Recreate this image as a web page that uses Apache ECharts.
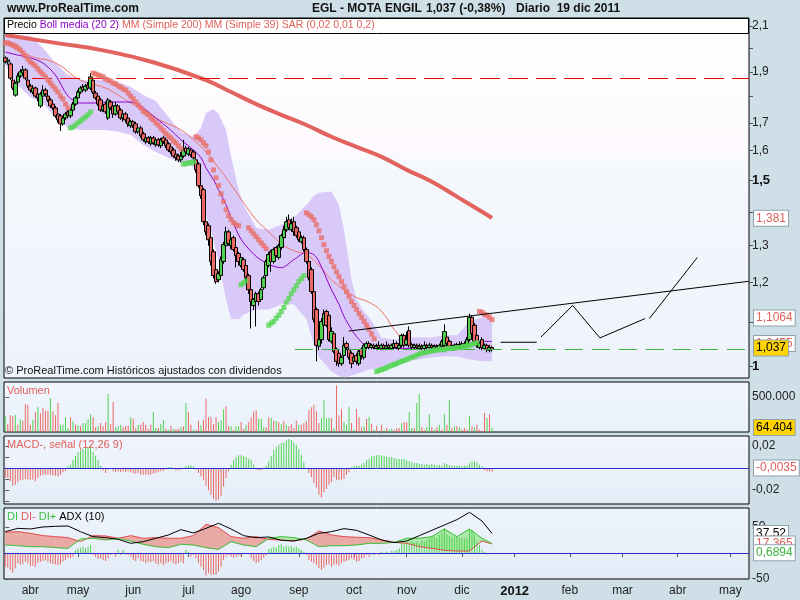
<!DOCTYPE html>
<html><head><meta charset="utf-8">
<script src="https://cdn.jsdelivr.net/npm/echarts@6/dist/echarts.min.js"></script>
<style>html,body{margin:0;padding:0;background:#cfdfe7;}#c{width:800px;height:600px;}</style>
</head><body><div id="c"></div>
<script>
// ---------- DATA ----------
const monthTickIdx = [10,29,51,73,94,117,139,160,182,203,225,246,268,289];
const monthNames = ['abr','may','jun','jul','ago','sep','oct','nov','dic','2012','feb','mar','abr','may'];
const priceTickValues = [1,1.1,1.2,1.3,1.4,1.5,1.6,1.7,1.8,1.9,2.0,2.1];
const priceLabelValues = [1,1.2,1.3,1.5,1.6,1.7,1.9,2.1];
// [open, close, low, high]
const ohlc = [
[1.959,1.942,1.935,1.965],[1.942,1.950,1.930,1.958],[1.933,1.874,1.866,1.940],[1.866,1.834,1.826,1.875],[1.806,1.854,1.800,1.860],
[1.858,1.883,1.850,1.895],[1.883,1.900,1.875,1.912],[1.895,1.908,1.885,1.925],[1.908,1.874,1.866,1.915],[1.866,1.842,1.834,1.872],
[1.842,1.826,1.815,1.850],[1.818,1.834,1.810,1.846],[1.834,1.802,1.795,1.840],[1.810,1.795,1.782,1.818],[1.764,1.810,1.756,1.818],
[1.802,1.826,1.795,1.845],[1.826,1.810,1.800,1.835],[1.802,1.787,1.779,1.810],[1.787,1.764,1.756,1.795],[1.771,1.756,1.748,1.779],
[1.756,1.726,1.718,1.764],[1.733,1.711,1.700,1.741],[1.726,1.696,1.670,1.733],[1.696,1.718,1.689,1.726],[1.718,1.733,1.711,1.741],
[1.741,1.726,1.718,1.748],[1.726,1.748,1.718,1.756],[1.748,1.771,1.741,1.779],[1.771,1.795,1.764,1.802],[1.795,1.818,1.787,1.826],
[1.818,1.834,1.810,1.842],[1.838,1.826,1.818,1.850],[1.826,1.842,1.818,1.850],[1.846,1.834,1.826,1.858],[1.834,1.879,1.826,1.895],
[1.866,1.818,1.810,1.874],[1.814,1.795,1.787,1.822],[1.802,1.771,1.764,1.810],[1.787,1.748,1.741,1.795],[1.748,1.764,1.741,1.771],
[1.771,1.741,1.733,1.779],[1.718,1.787,1.711,1.795],[1.779,1.756,1.748,1.787],[1.764,1.733,1.718,1.771],[1.733,1.764,1.726,1.779],
[1.764,1.741,1.733,1.771],[1.748,1.718,1.711,1.756],[1.718,1.733,1.704,1.741],[1.733,1.711,1.700,1.741],[1.718,1.696,1.685,1.726],
[1.689,1.704,1.681,1.711],[1.704,1.689,1.681,1.711],[1.696,1.667,1.660,1.704],[1.667,1.681,1.660,1.689],[1.681,1.652,1.645,1.689],
[1.660,1.638,1.631,1.667],[1.631,1.645,1.624,1.652],[1.645,1.631,1.624,1.652],[1.624,1.645,1.617,1.652],[1.645,1.627,1.620,1.652],
[1.620,1.638,1.613,1.645],[1.638,1.620,1.613,1.645],[1.617,1.638,1.609,1.645],[1.645,1.631,1.624,1.652],[1.638,1.617,1.609,1.645],
[1.624,1.602,1.595,1.631],[1.613,1.595,1.588,1.620],[1.602,1.581,1.575,1.609],[1.588,1.575,1.565,1.595],[1.581,1.568,1.560,1.588],
[1.568,1.581,1.560,1.595],[1.581,1.602,1.575,1.638],[1.609,1.595,1.588,1.617],[1.588,1.606,1.581,1.613],[1.602,1.585,1.578,1.609],
[1.595,1.575,1.568,1.602],[1.568,1.534,1.525,1.575],[1.554,1.482,1.475,1.560],[1.482,1.450,1.440,1.490],[1.469,1.370,1.360,1.475],
[1.370,1.340,1.330,1.378],[1.358,1.317,1.300,1.365],[1.323,1.256,1.245,1.330],[1.283,1.218,1.210,1.290],[1.234,1.202,1.196,1.240],
[1.207,1.223,1.200,1.230],[1.218,1.261,1.212,1.270],[1.256,1.303,1.250,1.311],[1.300,1.340,1.295,1.355],[1.340,1.306,1.300,1.346],
[1.300,1.317,1.290,1.323],[1.323,1.289,1.283,1.329],[1.295,1.272,1.240,1.300],[1.278,1.256,1.245,1.283],[1.245,1.267,1.240,1.272],
[1.261,1.234,1.228,1.267],[1.245,1.212,1.205,1.250],[1.218,1.181,1.170,1.223],[1.181,1.151,1.085,1.186],[1.141,1.156,1.130,1.160],
[1.151,1.171,1.090,1.176],[1.171,1.151,1.141,1.176],[1.156,1.181,1.151,1.186],[1.186,1.212,1.181,1.218],[1.218,1.256,1.212,1.261],
[1.245,1.275,1.240,1.283],[1.283,1.256,1.228,1.289],[1.256,1.289,1.250,1.295],[1.295,1.272,1.267,1.300],[1.267,1.300,1.261,1.306],
[1.295,1.329,1.289,1.335],[1.323,1.346,1.317,1.358],[1.346,1.370,1.340,1.385],[1.376,1.352,1.346,1.392],[1.346,1.364,1.340,1.380],
[1.370,1.340,1.329,1.385],[1.352,1.329,1.323,1.358],[1.340,1.317,1.311,1.346],[1.311,1.323,1.306,1.329],[1.323,1.289,1.283,1.329],
[1.289,1.256,1.250,1.295],[1.256,1.212,1.205,1.261],[1.234,1.176,1.170,1.240],[1.176,1.107,1.100,1.181],[1.131,1.046,1.010,1.136],
[1.044,1.059,1.035,1.065],[1.059,1.102,1.050,1.110],[1.093,1.121,1.088,1.131],[1.126,1.093,1.088,1.131],[1.117,1.059,1.055,1.121],
[1.055,1.078,1.050,1.088],[1.073,1.032,1.028,1.078],[1.037,1.010,1.000,1.041],[1.028,1.005,0.998,1.032],[1.005,1.019,1.000,1.023],
[1.023,1.046,1.019,1.065],[1.050,1.041,1.035,1.055],[1.037,1.019,1.014,1.041],[1.028,1.005,0.995,1.032],[1.010,1.019,1.005,1.023],
[1.023,1.010,1.003,1.028],[1.005,1.032,1.000,1.037],[1.037,1.023,1.014,1.041],[1.019,1.046,1.014,1.050],[1.041,1.050,1.037,1.055],
[1.050,1.041,1.037,1.055],[1.041,1.046,1.037,1.050],[1.046,1.041,1.037,1.050],[1.039,1.044,1.035,1.050],[1.046,1.041,1.037,1.055],
[1.039,1.046,1.035,1.050],[1.046,1.039,1.035,1.050],[1.039,1.044,1.035,1.055],[1.046,1.041,1.037,1.050],[1.039,1.046,1.035,1.050],
[1.041,1.050,1.037,1.059],[1.050,1.041,1.037,1.055],[1.039,1.046,1.035,1.050],[1.046,1.069,1.041,1.073],[1.069,1.046,1.041,1.073],
[1.048,1.059,1.044,1.078],[1.080,1.046,1.041,1.090],[1.048,1.041,1.035,1.052],[1.041,1.046,1.037,1.050],[1.046,1.041,1.037,1.050],
[1.039,1.044,1.035,1.050],[1.044,1.039,1.035,1.048],[1.039,1.046,1.035,1.055],[1.046,1.041,1.037,1.050],[1.041,1.046,1.037,1.052],
[1.046,1.041,1.037,1.050],[1.039,1.044,1.035,1.048],[1.044,1.039,1.035,1.048],[1.039,1.046,1.035,1.050],[1.044,1.055,1.041,1.059],
[1.046,1.078,1.041,1.095],[1.065,1.050,1.044,1.069],[1.055,1.044,1.039,1.059],[1.041,1.046,1.037,1.050],[1.046,1.041,1.037,1.050],
[1.041,1.048,1.037,1.052],[1.048,1.044,1.039,1.055],[1.041,1.050,1.037,1.055],[1.050,1.046,1.041,1.055],[1.046,1.059,1.041,1.065],
[1.059,1.112,1.055,1.121],[1.112,1.073,1.065,1.117],[1.093,1.055,1.050,1.098],[1.069,1.046,1.041,1.073],[1.041,1.050,1.037,1.055],
[1.059,1.041,1.035,1.065],[1.039,1.046,1.035,1.050],[1.046,1.037,1.030,1.050],[1.035,1.041,1.030,1.046],[1.041,1.037,1.032,1.044]
];
const volume = [
224000,114000,238000,224000,243000,105000,186000,162000,400000,390000,
105000,176000,286000,357000,271000,343000,305000,305000,486000,295000,
238000,414000,105000,105000,210000,57000,210000,152000,105000,95000,
90000,129000,129000,186000,257000,210000,71000,81000,129000,81000,
143000,543000,114000,429000,67000,81000,100000,67000,90000,90000,
210000,190000,57000,100000,105000,143000,105000,48000,105000,286000,
57000,57000,114000,176000,48000,33000,90000,43000,43000,48000,
71000,81000,414000,286000,105000,33000,33000,162000,95000,176000,
476000,210000,210000,114000,210000,143000,167000,324000,367000,81000,
81000,33000,81000,81000,143000,48000,105000,143000,210000,295000,
310000,190000,186000,67000,67000,210000,200000,162000,162000,143000,
114000,152000,105000,81000,114000,57000,162000,105000,105000,129000,
152000,319000,352000,390000,295000,129000,200000,457000,200000,200000,
200000,57000,667000,238000,324000,143000,105000,357000,129000,33000,
329000,210000,67000,81000,186000,214000,119000,33000,81000,10000,
105000,24000,57000,33000,48000,33000,57000,57000,129000,143000,
138000,281000,57000,57000,414000,543000,67000,33000,67000,257000,
67000,33000,67000,105000,33000,257000,105000,457000,57000,81000,
81000,67000,33000,57000,33000,233000,81000,67000,105000,33000,
19000,271000,200000,257000,64404
];
const volumeColor = "grrrgrgrrrrgrgrrrrgrrrggggrgrgrggggrrgrrrgrrgggrrrgrrgrrrrrggrggrgrgrrgrgrrgrrgrrrrrrgggrrgrggrrgrrrrgggrrgrgrgrgrrrrgrrrrrrrrgggg" +
  "rgrrrgggrgrrrgrgrgrrrgrggrrrgrrggrggrrggrgrgrgrgrgrgrrrgrgrrrrgrg";
const macdHist = [
-0.0085,-0.0091,-0.0121,-0.0161,-0.0152,-0.0130,-0.0112,-0.0106,-0.0100,-0.0106,
-0.0106,-0.0106,-0.0121,-0.0091,-0.0070,-0.0061,-0.0061,-0.0061,-0.0061,-0.0070,
-0.0070,-0.0076,-0.0061,-0.0039,-0.0024,0.0015,0.0030,0.0076,0.0112,0.0145,
0.0161,0.0173,0.0182,0.0191,0.0197,0.0145,0.0112,0.0076,0.0021,-0.0021,
-0.0045,-0.0015,-0.0009,-0.0030,-0.0036,-0.0030,-0.0036,-0.0030,-0.0036,-0.0030,
-0.0039,-0.0045,-0.0052,-0.0045,-0.0061,-0.0061,-0.0061,-0.0061,-0.0061,-0.0052,
-0.0045,-0.0036,-0.0030,-0.0024,-0.0015,0.0009,0.0009,-0.0009,-0.0021,-0.0021,
-0.0015,-0.0009,0.0015,0.0024,0.0024,0.0015,-0.0015,-0.0045,-0.0076,-0.0112,
-0.0161,-0.0203,-0.0242,-0.0279,-0.0297,-0.0288,-0.0251,-0.0167,-0.0091,-0.0030,
0.0030,0.0070,0.0097,0.0115,0.0115,0.0106,0.0100,0.0085,0.0076,0.0030,
-0.0015,-0.0021,-0.0021,-0.0009,0.0021,0.0061,0.0112,0.0167,0.0191,0.0212,
0.0227,0.0233,0.0258,0.0264,0.0252,0.0233,0.0212,0.0173,0.0121,0.0052,
-0.0003,-0.0045,-0.0085,-0.0136,-0.0176,-0.0242,-0.0267,-0.0221,-0.0191,-0.0152,
-0.0130,-0.0082,-0.0106,-0.0112,-0.0106,-0.0100,-0.0061,-0.0039,0.0006,0.0021,
0.0021,0.0021,0.0030,0.0045,0.0076,0.0085,0.0106,0.0112,0.0115,0.0121,
0.0112,0.0106,0.0106,0.0100,0.0097,0.0091,0.0085,0.0085,0.0082,0.0082,
0.0070,0.0061,0.0052,0.0045,0.0045,0.0039,0.0036,0.0030,0.0036,0.0030,
0.0036,0.0030,0.0024,0.0030,0.0024,0.0045,0.0036,0.0027,0.0024,0.0021,
0.0021,0.0021,0.0015,0.0021,0.0024,0.0045,0.0061,0.0061,0.0052,0.0030,
0.0015,-0.0021,-0.0030,-0.0030,-0.0035
];
const bbIdx =   [0,5,10,15,20,25,30,35,40,45,50,55,60,65,70,75,78,80,83,85,88,90,93,95,100,105,110,115,120,123,125,130,133,135,138,140,143,145,150,155,160,165,170,175,180,185,190,194];
const bbUpper = [2.059,2.059,2.055,2.002,1.937,1.887,1.866,1.866,1.870,1.858,1.838,1.806,1.783,1.722,1.667,1.649,1.681,1.737,1.752,1.733,1.674,1.578,1.469,1.421,1.352,1.346,1.361,1.382,1.421,1.450,1.459,1.463,1.421,1.346,1.207,1.156,1.124,1.112,1.064,1.059,1.064,1.064,1.064,1.069,1.069,1.102,1.112,1.112];
const bbMid =   [1.984,1.971,1.959,1.937,1.887,1.802,1.775,1.775,1.779,1.779,1.779,1.756,1.718,1.681,1.638,1.602,1.575,1.541,1.501,1.469,1.421,1.382,1.331,1.308,1.270,1.248,1.239,1.261,1.281,1.275,1.256,1.181,1.144,1.114,1.083,1.066,1.048,1.044,1.036,1.039,1.039,1.041,1.044,1.044,1.044,1.050,1.055,1.055];
const bbLower = [1.929,1.846,1.798,1.775,1.718,1.681,1.674,1.674,1.674,1.667,1.656,1.620,1.595,1.575,1.558,1.544,1.469,1.391,1.317,1.256,1.156,1.107,1.107,1.119,1.131,1.131,1.144,1.144,1.107,1.048,1.019,0.988,0.979,0.975,0.979,0.983,0.988,0.992,0.996,1.003,1.010,1.014,1.019,1.021,1.021,1.014,1.010,1.010];
const ma39Idx = [0,10,20,30,40,45,50,55,60,65,70,75,80,85,90,95,100,105,110,115,120,125,130,135,140,145,150,155,160,165,170,180,190,194];
const ma39 =    [2.024,1.967,1.937,1.866,1.834,1.806,1.775,1.748,1.718,1.696,1.674,1.638,1.595,1.541,1.485,1.428,1.376,1.340,1.306,1.286,1.275,1.245,1.207,1.181,1.161,1.149,1.126,1.083,1.052,1.044,1.041,1.044,1.046,1.046];
const ma200Idx = [0,20,40,60,80,90,100,110,120,130,140,150,160,170,180,190,194];
const ma200 =    [2.059,2.024,1.989,1.937,1.866,1.818,1.771,1.730,1.692,1.649,1.613,1.578,1.534,1.495,1.447,1.400,1.381];
const sar = [
2.024,2.024,2.019,2.015,2.010,2.002,1.993,1.980,1.967,1.954,1.942,1.933,1.925,1.912,1.900,1.891,1.879,1.866,1.854,1.842,1.830,1.818,1.802,1.791,1.771,1.756,
1.681,1.685,1.692,1.700,1.707,1.715,1.722,1.730,1.741,
1.895,1.891,1.887,1.883,1.879,1.870,1.866,1.862,1.854,1.850,1.842,1.838,1.830,1.826,1.814,1.802,1.791,1.779,1.767,1.756,1.744,1.737,1.730,1.718,1.711,1.700,1.692,1.681,1.671,1.660,1.652,1.645,1.634,1.627,1.617,1.606,
1.554,1.554,1.558,1.558,1.561,
1.649,1.645,1.638,1.627,1.617,1.595,1.568,1.534,1.508,1.482,1.456,1.431,1.406,1.388,1.376,1.367,1.361,1.358,
1.194,1.199,1.204,
1.352,1.343,1.334,1.326,1.317,1.308,1.300,1.292,
1.093,1.098,1.102,1.110,1.117,1.126,1.136,1.149,1.159,1.171,1.181,1.191,1.202,1.210,1.218,
1.397,1.391,1.385,1.376,1.361,1.343,1.323,1.303,1.286,1.270,1.256,1.242,1.228,1.215,1.202,1.189,1.176,1.164,1.151,1.141,1.131,1.121,1.112,1.102,1.093,1.083,1.072,1.061,
0.988,0.990,0.992,0.994,0.996,0.999,1.001,1.003,1.005,1.008,1.010,1.012,1.014,1.017,1.019,1.021,1.024,1.026,1.028,1.030,1.030,1.033,1.033,1.035,1.035,1.036,1.036,1.036,1.039,1.039,1.039,1.039,1.041,1.041,1.041,1.044,1.044,1.046,1.048,1.050,1.052,
1.126,1.124,1.119,1.117,1.112,1.1064
];
const sarSide = 'r'.repeat(26)+'g'.repeat(9)+'r'.repeat(36)+'g'.repeat(5)+'r'.repeat(18)+'g'.repeat(3)+'r'.repeat(8)+'g'.repeat(15)+'r'.repeat(28)+'g'.repeat(41)+'r'.repeat(6);
const diIdx =   [0,5,10,15,20,25,30,35,40,45,50,55,60,65,70,75,80,85,90,95,100,105,110,115,120,125,130,135,140,145,150,155,160,165,170,175,180,185,190,194];
const adx =     [41.0,47.4,46.2,50,51.3,51.9,41,31.4,29.5,26.3,18.6,21.8,28.2,34.6,44.9,38.5,47.4,57.1,46.2,33.3,29.5,30.8,24.4,23.1,28.2,37.8,41,46.8,43.6,34.6,25,19.9,23.1,33.3,43.6,53.8,64.1,78.2,61.5,37.52];
const diMinus = [39.7,41,37.8,33.3,31.4,29.5,22,33.3,32.7,28.2,33.3,28.2,29.5,28.2,28.2,33.3,55.1,48.7,31.4,28.2,31.4,26,25,23.1,26.9,42.3,34.6,31.4,30.1,29.5,25,20.5,18.6,12.2,9,5.1,3.8,3.8,23.1,17.365];
const diPlus =  [15.4,14.1,12.2,12.2,10.3,9,27,28.2,25,28.2,23.1,16.7,12.2,10.3,16.7,15.4,10.3,7,21.8,15.4,12.2,28.2,31.4,29.5,25,12.2,14.1,14.1,15.4,18.6,18.6,20.5,28.2,28.2,31.4,46.2,31.4,46.2,28.2,18.05];
const diHist = [
-26.3,-28.2,-32.7,-37.8,-29.5,-19.9,-23.1,-21.8,-16.7,-19.9,
-25,-24.4,-26.3,-19.9,-16.7,-15.4,-13.5,-16.7,-19.9,-21.2,
-21.8,-23.1,-21.8,-16.7,-13.5,-9,-10.3,-7.1,5.8,9,
10.3,12.2,9,12.2,15.4,-3.8,-7.1,-11.5,-10.3,-13.5,
-15.4,-10.3,-3.8,-2.6,-7.1,5.8,-3.8,5.8,-2.6,-3.8,
-7.1,-13.5,-15.4,-10.3,-15.4,-16.7,-19.9,-16.7,-17.9,-15.4,
-19.9,-21.8,-19.9,-23.1,-19.9,-17.9,-15.4,-19.9,-21.8,-19.9,
-16.7,-19.9,5.8,2.6,-7.1,-3.8,-10.3,-19.9,-26.3,-32.7,
-43.6,-39.1,-42.3,-41,-42.3,-35.9,-26.3,-13.5,-7.1,-3.8,
-7.1,-9,-7.1,-5.1,-7.1,-2.6,-0.6,-2.6,-10.3,-15.4,
-19.9,-17.9,-13.5,-9,-5.1,7.7,9,12.2,10.3,15.4,
16.7,12.2,14.1,12.2,14.1,10.3,12.2,9,5.8,2.6,
-3.8,-13.5,-16.7,-19.9,-23.1,-29.5,-32.7,-28.2,-23.1,-21.8,
-26.3,-23.1,-21.8,-24.4,-19.9,-16.7,-15.4,-13.5,-10.3,-13.5,
-16.7,-15.4,-10.3,-9,-3.8,-7.1,-2.6,-3.8,-1.9,-3.8,
2.6,-2.6,2.6,-2.6,3.8,3.8,5.8,9,21.8,18.6,
20.5,18.6,23.1,20.5,21.8,18.6,23.1,21.8,25,28.2,
33.3,31.4,29.5,34.6,37.8,47.4,35.9,33.3,31.4,31.4,
31.4,29.5,28.2,28.2,28.2,46.2,44.2,34.6,21.8,15.4,
5.8,2.6,-2.6,-1.3,0.6894
];
const resistanceLevel = 1.874;
const lastClose = 1.037;
const trendLine = [[136.9,1.079],[296.3,1.203]];
const forecastA = [[197.4,1.053],[211.8,1.053]];
const forecastB = [[213.5,1.065],[226.1,1.141],[237.0,1.063],[255.0,1.109]];
const forecastC = [[256.7,1.109],[275.8,1.267]];
const priceTags = [
  {v:1.381, text:'1,381', color:'#e0605c', bg:'#fff'},
  {v:1.1064, text:'1,1064', color:'#e0605c', bg:'#fff'},
  {v:1.046, text:'1,0455', color:'#e0605c', bg:'#fff'},
  {v:1.037, text:'1,037', color:'#000', bg:'#ffd400'}
];
const lastVolume = 64404;
const lastMacd = -0.0035;

// ---------- CHART ----------
const FONT = "'Liberation Sans', Arial, sans-serif";
const GREEN = '#4fd24f', RED = '#ec6862';
const XMIN = -0.5, XMAX = 296.4;
const PMIN = 0.974, PMAX = 2.137;
const pts = (idx, vals) => idx.map((x, k) => [x, vals[k]]);
const comma = s => String(s).replace('.', ',');
const thous = v => String(v).replace(/\B(?=(\d{3})+(?!\d))/g, '.');

function tag(v, text, color, bg) {
  return { yAxis: v, lineStyle: {width: 0, color: 'rgba(0,0,0,0)'},
    label: {show: true, position: 'end', distance: 5, formatter: text, color: color, opacity: 1,
      backgroundColor: bg, borderColor: '#8ea2ae', borderWidth: 1, padding: [2, 2, 1, 2],
      fontSize: 12, fontFamily: FONT} };
}
function grad(c1, c2) {
  return {type: 'linear', x: 0, y: 0, x2: 0, y2: 1, colorStops: [{offset: 0, color: c1}, {offset: 1, color: c2}]};
}
const grids = [
  {top: 18, height: 360, bg: {type:'linear',x:0,y:0,x2:0,y2:1,colorStops:[{offset:0,color:'#ffffff'},{offset:0.38,color:'#fdf9fe'},{offset:0.4,color:'#f5f8fd'},{offset:1,color:'#eef3fb'}]}},
  {top: 382, height: 50, bg: grad('#f1f6fd', '#e9f1fb')},
  {top: 436, height: 68, bg: grad('#f1f5fd', '#e4edf8')},
  {top: 508, height: 71, bg: grad('#eef4fc', '#e3ecf7')}
].map(g => ({left: 4, right: 51, top: g.top, height: g.height, show: true,
  borderColor: '#000', borderWidth: 1, backgroundColor: g.bg}));

const xAxes = [0, 1, 2, 3].map(i => ({
  type: 'value', gridIndex: i, min: XMIN, max: XMAX,
  splitLine: {show: false}, axisLine: {show: false},
  axisTick: i === 3 ? {show: true, customValues: monthTickIdx, length: 4, lineStyle: {color: '#555'}} : {show: false},
  axisLabel: i === 3 ? {show: true, customValues: monthTickIdx, margin: 6, fontSize: 12, color: '#222', fontFamily: FONT,
    formatter: v => { const n = monthNames[monthTickIdx.indexOf(Math.round(v))]; return n === '2012' ? '{b|2012}' : n; },
    rich: {b: {fontWeight: 'bold', fontSize: 13, color: '#111', fontFamily: FONT}}} : {show: false}
}));

const rAxisLabel = {fontSize: 12, color: '#222', fontFamily: FONT, margin: 3};
const yAxes = [
  {type: 'log', gridIndex: 0, min: PMIN, max: PMAX, show: false},
  {type: 'value', gridIndex: 0, position: 'right', min: Math.log(PMIN), max: Math.log(PMAX),
    splitLine: {show: false}, axisLine: {show: false},
    axisTick: {show: true, customValues: priceTickValues.map(Math.log), length: 4, lineStyle: {color: '#555'}},
    axisLabel: Object.assign({}, rAxisLabel, {customValues: priceLabelValues.map(Math.log),
      formatter: v => { const p = Math.round(Math.exp(v) * 10) / 10; const s = comma(p);
        return (p === 1 || p === 1.5) ? '{b|' + s + '}' : s; },
      rich: {b: {fontWeight: 'bold', fontSize: 13, color: '#111', fontFamily: FONT}}})},
  {type: 'value', gridIndex: 1, position: 'right', min: 0, max: 714000, splitLine: {show: false}, axisLine: {show: false},
    axisTick: {show: true, customValues: [500000], length: 4, lineStyle: {color: '#555'}},
    axisLabel: Object.assign({}, rAxisLabel, {customValues: [500000], formatter: v => thous(v)})},
  {type: 'value', gridIndex: 2, position: 'right', min: -0.0327, max: 0.0291, splitLine: {show: false}, axisLine: {show: false},
    axisTick: {show: true, customValues: [0.02, 0.01, -0.01, -0.02, -0.03], length: 4, lineStyle: {color: '#555'}},
    axisLabel: Object.assign({}, rAxisLabel, {customValues: [0.02, -0.02], formatter: v => comma(v)})},
  {type: 'value', gridIndex: 3, position: 'right', min: -50, max: 86.5, splitLine: {show: false}, axisLine: {show: false},
    axisTick: {show: true, customValues: [50, -50], length: 4, lineStyle: {color: '#555'}},
    axisLabel: Object.assign({}, rAxisLabel, {customValues: [50, -50], formatter: v => String(v)})}
];

function renderBand(params, api) {
  const top = bbIdx.map((x, k) => api.coord([x, bbUpper[k]]));
  const bot = bbIdx.map((x, k) => api.coord([x, bbLower[k]])).reverse();
  return {type: 'polygon', shape: {points: top.concat(bot)}, style: {fill: '#d9c9f9'}};
}
function renderDIZone(params, api) {
  const children = [];
  const add = (pa, pb, ma, mb, isRed) => {
    const poly = [api.coord(pa), api.coord(pb), api.coord(mb), api.coord(ma)];
    const c = isRed ? '#e9aaa6' : '#aee8a8';
    children.push({type: 'polygon', shape: {points: poly}, style: {fill: c, stroke: c, lineWidth: 0.6}});
  };
  for (let k = 0; k < diIdx.length - 1; k++) {
    const x0 = diIdx[k], x1 = diIdx[k + 1];
    const d0 = diPlus[k] - diMinus[k], d1 = diPlus[k + 1] - diMinus[k + 1];
    if (d0 * d1 < 0) {
      const t = d0 / (d0 - d1);
      const xm = x0 + t * (x1 - x0), ym = diPlus[k] + t * (diPlus[k + 1] - diPlus[k]);
      add([x0, diPlus[k]], [xm, ym], [x0, diMinus[k]], [xm, ym], d0 < 0);
      add([xm, ym], [x1, diPlus[k + 1]], [xm, ym], [x1, diMinus[k + 1]], d1 < 0);
    } else {
      add([x0, diPlus[k]], [x1, diPlus[k + 1]], [x0, diMinus[k]], [x1, diMinus[k + 1]], (d0 + d1) < 0);
    }
  }
  return {type: 'group', children: children};
}

function tagSeries(xi, yi, items) {
  return {type: 'line', xAxisIndex: xi, yAxisIndex: yi, data: [], clip: false, z: 50, silent: true,
    markLine: {symbol: ['none', 'none'], silent: true, animation: false, data: items}};
}

const P = {xAxisIndex: 0, yAxisIndex: 0};
const lastIdx = diIdx.length - 1;
const series = [
  Object.assign({type: 'custom', renderItem: renderBand, data: [[bbIdx[0], bbUpper[0]]], silent: true, z: 1}, P),
  Object.assign({type: 'line', data: pts(ma200Idx, ma200), symbol: 'none', smooth: true,
    lineStyle: {color: '#e2625e', width: 4}, z: 2,
    markLine: {symbol: ['none', 'none'], silent: true, animation: false, label: {show: false},
      data: [
        [{coord: [10.7, resistanceLevel], lineStyle: {color: '#e00000', width: 1, type: [20, 8]}}, {coord: [XMAX, resistanceLevel]}],
        [{coord: [115.4, lastClose], lineStyle: {color: '#3cb33c', width: 1, type: [18, 9]}}, {coord: [XMAX, lastClose]}]
      ]}}, P),
  Object.assign({type: 'line', data: pts(ma39Idx, ma39), symbol: 'none', smooth: true,
    lineStyle: {color: '#ee6e60', width: 1}, z: 3}, P),
  Object.assign({type: 'line', data: pts(bbIdx, bbMid), symbol: 'none', smooth: 0.3,
    lineStyle: {color: '#8a00c8', width: 1}, z: 3}, P),
  Object.assign({type: 'candlestick', data: ohlc.map((d, i) => [i, d[0], d[1], d[2], d[3]]),
    encode: {x: 0, y: [1, 2, 3, 4]}, barWidth: 4, z: 4,
    itemStyle: {color: GREEN, color0: RED, borderColor: '#000', borderColor0: '#000', borderWidth: 1}}, P),
  Object.assign({type: 'scatter', symbol: 'rect', symbolSize: 5, z: 5,
    data: sar.map((v, i) => ({value: [i, v], itemStyle: {color: sarSide[i] === 'r' ? '#e8706a' : '#55d655'}}))}, P),
  Object.assign({type: 'line', data: trendLine, symbol: 'none', lineStyle: {color: '#000', width: 1}, z: 6}, P),
  Object.assign({type: 'line', data: forecastA, symbol: 'none', lineStyle: {color: '#000', width: 1}, z: 6}, P),
  Object.assign({type: 'line', data: forecastB, symbol: 'none', lineStyle: {color: '#000', width: 1}, z: 6}, P),
  Object.assign({type: 'line', data: forecastC, symbol: 'none', lineStyle: {color: '#000', width: 1}, z: 6}, P),
  tagSeries(0, 0, priceTags.map(t => tag(t.v, t.text, t.color, t.bg))),
  {type: 'bar', xAxisIndex: 1, yAxisIndex: 2, barWidth: 1,
    data: volume.map((v, i) => ({value: [i, v], itemStyle: {color: volumeColor[i] === 'g' ? GREEN : RED}}))},
  tagSeries(1, 2, [tag(lastVolume, thous(lastVolume), '#000', '#ffd400')]),
  {type: 'bar', xAxisIndex: 2, yAxisIndex: 3, barWidth: 1,
    data: macdHist.map((v, i) => ({value: [i, v], itemStyle: {color: v >= 0 ? GREEN : RED}})),
    markLine: {symbol: ['none', 'none'], silent: true, animation: false,
      data: [{yAxis: 0, lineStyle: {color: '#2b2bd0', width: 1, type: 'solid'}, label: {show: false}}]}},
  tagSeries(2, 3, [tag(lastMacd, comma(lastMacd), '#e0605c', '#fff')]),
  {type: 'custom', xAxisIndex: 3, yAxisIndex: 4, renderItem: renderDIZone, data: [[diIdx[0], diPlus[0]]], silent: true, z: 1},
  {type: 'bar', xAxisIndex: 3, yAxisIndex: 4, barWidth: 1, z: 2,
    data: diHist.map((v, i) => ({value: [i, v], itemStyle: {color: v >= 0 ? GREEN : RED}})),
    markLine: {symbol: ['none', 'none'], silent: true, animation: false,
      data: [{yAxis: 0, lineStyle: {color: '#2b2bd0', width: 1, type: 'solid'}, label: {show: false}}]}},
  {type: 'line', xAxisIndex: 3, yAxisIndex: 4, symbol: 'none', z: 3, data: pts(diIdx, diMinus), lineStyle: {color: '#e55050', width: 1}},
  {type: 'line', xAxisIndex: 3, yAxisIndex: 4, symbol: 'none', z: 3, data: pts(diIdx, diPlus), lineStyle: {color: '#3cc03c', width: 1}},
  {type: 'line', xAxisIndex: 3, yAxisIndex: 4, symbol: 'none', z: 3, data: pts(diIdx, adx), lineStyle: {color: '#000', width: 1}},
  tagSeries(3, 4, [
    tag(adx[lastIdx], comma(adx[lastIdx]), '#000', '#fff'),
    tag(diMinus[lastIdx], comma(diMinus[lastIdx]), '#e0605c', '#fff'),
    tag(diHist[diHist.length - 1], comma(diHist[diHist.length - 1]), '#3cb33c', '#fff')])
];

const LF = '10.5px ' + FONT;
const txt = (x, y, text, font, fill) => ({type: 'text', x: x, y: y, z: 200, silent: true,
  style: {text: text, font: font, fill: fill}});
const graphic = [
  {type: 'rect', z: 150, silent: true, shape: {x: 4.5, y: 18.5, width: 744, height: 15}, style: {fill: '#fff', stroke: '#000', lineWidth: 1}},
  txt(7, 3, 'www.ProRealTime.com', 'bold 12px ' + FONT, '#111'),
  txt(312, 3, 'EGL - MOTA ENGIL', 'bold 12px ' + FONT, '#111'),
  txt(426, 3, '1,037 (-0,38%)', 'bold 12px ' + FONT, '#111'),
  txt(516, 3, 'Diario  19 dic 2011', 'bold 12px ' + FONT, '#111'),
  {type: 'text', x: 7, y: 20, z: 200, silent: true, style: {
    text: '{k|Precio} {p|Boll media (20 2)} {r|MM (Simple 200) MM (Simple 39) SAR (0,02 0,01 0,2)}',
    font: LF, rich: {k: {fill: '#000', font: LF}, p: {fill: '#8a00c8', font: LF}, r: {fill: '#e0605c', font: LF}}}},
  txt(5, 365, '© ProRealTime.com Históricos ajustados con dividendos', '11px ' + FONT, '#111'),
  txt(7, 385, 'Volumen', '11px ' + FONT, '#e0605c'),
  txt(7, 439, 'MACD-, señal (12,26 9)', '11px ' + FONT, '#e0605c'),
  {type: 'text', x: 7, y: 511, z: 200, silent: true, style: {
    text: '{g|DI} {r|DI-} {g|DI+} {k|ADX (10)}', font: '11px ' + FONT,
    rich: {g: {fill: '#3cc03c', font: '11px ' + FONT}, r: {fill: '#e0605c', font: '11px ' + FONT}, k: {fill: '#000', font: '11px ' + FONT}}}}
];

const chart = echarts.init(document.getElementById('c'), null, {renderer: 'canvas'});
chart.setOption({
  animation: false,
  backgroundColor: '#cfdfe7',
  grid: grids, xAxis: xAxes, yAxis: yAxes, series: series, graphic: graphic
});
</script></body></html>
